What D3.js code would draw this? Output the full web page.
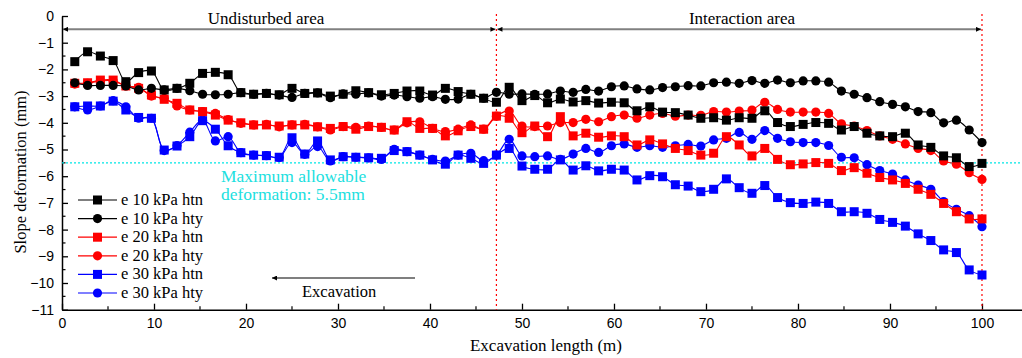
<!DOCTYPE html>
<html>
<head>
<meta charset="utf-8">
<script src="https://cdn.jsdelivr.net/npm/d3@7"></script>
<style>
  body { margin: 0; background: #fff; }
  svg { display: block; }
</style>
</head>
<body>
<svg></svg>
<script>
// excavation positions (m)
const xs = [1.39, 2.78, 4.17, 5.56, 6.94, 8.33, 9.72, 11.11, 12.5, 13.89, 15.28, 16.67, 18.06, 19.44, 20.83, 22.22, 23.61, 25, 26.39, 27.78, 29.17, 30.56, 31.94, 33.33, 34.72, 36.11, 37.5, 38.89, 40.28, 41.67, 43.06, 44.44, 45.83, 47.22, 48.61, 50, 51.39, 52.78, 54.17, 55.56, 56.94, 58.33, 59.72, 61.11, 62.5, 63.89, 65.28, 66.67, 68.06, 69.44, 70.83, 72.22, 73.61, 75, 76.39, 77.78, 79.17, 80.56, 81.94, 83.33, 84.72, 86.11, 87.5, 88.89, 90.28, 91.67, 93.06, 94.44, 95.83, 97.22, 98.61, 100]

const e10htn = [-1.71, -1.34, -1.5, -1.67, -2.46, -2.12, -2.06, -2.77, -2.71, -2.52, -2.15, -2.11, -2.2, -2.87, -2.93, -2.9, -2.95, -2.71, -2.9, -2.88, -3.0, -2.93, -2.8, -2.87, -2.95, -2.9, -2.81, -2.81, -2.96, -2.71, -2.83, -2.93, -3.08, -3.23, -2.67, -3.17, -2.98, -3.25, -3.11, -3.22, -3.17, -3.26, -3.23, -3.25, -3.55, -3.4, -3.6, -3.62, -3.71, -3.83, -3.81, -3.9, -3.81, -3.83, -3.55, -3.99, -4.14, -4.06, -3.99, -4.02, -4.27, -4.14, -4.39, -4.49, -4.52, -4.39, -4.83, -4.92, -5.24, -5.31, -5.64, -5.52]
const e10hty = [-2.5, -2.6, -2.6, -2.6, -2.62, -2.77, -2.71, -2.77, -2.71, -2.8, -2.93, -2.95, -2.93, -2.87, -2.93, -2.9, -2.96, -3.05, -2.9, -2.88, -3.06, -2.92, -2.93, -2.88, -3.0, -2.96, -3.02, -3.08, -3.02, -3.12, -3.11, -2.93, -3.08, -2.86, -2.93, -2.92, -2.93, -2.92, -2.81, -2.86, -2.75, -2.81, -2.65, -2.62, -2.73, -2.77, -2.68, -2.65, -2.61, -2.62, -2.5, -2.48, -2.52, -2.42, -2.52, -2.4, -2.5, -2.43, -2.43, -2.48, -2.81, -2.93, -3.06, -3.21, -3.31, -3.4, -3.58, -3.62, -4.0, -3.9, -4.27, -4.74]
const e20htn = [-2.52, -2.5, -2.4, -2.4, -2.62, -2.71, -2.96, -3.12, -3.27, -3.52, -3.58, -3.71, -3.9, -4.0, -4.08, -4.08, -4.12, -4.08, -4.08, -4.15, -4.21, -4.14, -4.24, -4.14, -4.17, -4.27, -3.96, -4.21, -4.21, -4.49, -4.3, -4.14, -4.24, -3.75, -3.83, -4.37, -4.12, -4.52, -3.77, -4.49, -4.39, -4.54, -4.49, -4.52, -4.83, -4.64, -4.79, -4.96, -5.04, -5.21, -5.14, -4.52, -4.83, -5.24, -4.96, -5.37, -5.57, -5.54, -5.49, -5.52, -5.79, -5.68, -5.89, -6.05, -6.14, -6.27, -6.49, -6.68, -7.02, -7.33, -7.6, -7.6]
const e20hty = [-2.55, -2.52, -2.43, -2.43, -2.62, -2.67, -3.0, -3.08, -3.37, -3.52, -3.58, -3.65, -3.88, -4.02, -4.08, -4.06, -4.15, -4.08, -4.06, -4.15, -4.27, -4.14, -4.17, -4.12, -4.17, -4.27, -4.0, -3.96, -4.21, -4.33, -4.24, -4.08, -4.24, -3.75, -3.56, -4.12, -4.14, -4.12, -3.99, -3.99, -3.87, -3.96, -3.77, -3.71, -3.83, -3.71, -3.65, -3.75, -3.71, -3.72, -3.58, -3.6, -3.56, -3.52, -3.23, -3.5, -3.6, -3.6, -3.6, -3.65, -4.04, -4.12, -4.29, -4.49, -4.62, -4.79, -4.96, -5.04, -5.43, -5.55, -5.87, -6.12]
const e30htn = [-3.4, -3.37, -3.37, -3.19, -3.52, -3.8, -3.83, -5.02, -4.87, -4.52, -3.92, -4.24, -4.86, -5.12, -5.21, -5.23, -5.29, -4.56, -5.17, -4.68, -5.39, -5.27, -5.29, -5.31, -5.33, -5.04, -5.08, -5.21, -5.39, -5.55, -5.21, -5.33, -5.52, -5.21, -4.96, -5.62, -5.74, -5.74, -5.39, -5.77, -5.61, -5.8, -5.74, -5.77, -6.14, -5.98, -6.02, -6.32, -6.37, -6.58, -6.49, -6.1, -6.43, -6.64, -6.35, -6.8, -6.99, -7.02, -6.97, -7.02, -7.33, -7.33, -7.39, -7.62, -7.73, -7.87, -8.16, -8.41, -8.76, -8.86, -9.51, -9.7]
const e30hty = [-3.4, -3.52, -3.37, -3.17, -3.4, -3.83, -3.83, -5.04, -4.85, -4.35, -3.9, -4.68, -4.52, -5.12, -5.21, -5.23, -5.3, -4.74, -5.18, -4.89, -5.43, -5.27, -5.29, -5.31, -5.37, -4.99, -5.08, -5.21, -5.37, -5.43, -5.21, -5.14, -5.42, -5.21, -4.62, -5.24, -5.27, -5.24, -5.37, -5.17, -4.96, -5.11, -4.86, -4.79, -4.92, -4.86, -4.92, -4.86, -4.81, -4.87, -4.64, -4.58, -4.36, -4.62, -4.29, -4.58, -4.71, -4.74, -4.74, -4.85, -5.29, -5.31, -5.57, -5.79, -5.92, -6.14, -6.33, -6.49, -6.95, -7.24, -7.48, -7.89]

const seriesNames = ["e 10 kPa htn", "e 10 kPa hty", "e 20 kPa htn", "e 20 kPa hty", "e 30 kPa htn", "e 30 kPa hty"]
const seriesValues = [e10htn, e10hty, e20htn, e20hty, e30htn, e30hty]
const seriesColors = ["#000000", "#000000", "#ff0000", "#ff0000", "#0000ff", "#0000ff"]
const seriesShapes = ["square", "circle", "square", "circle", "square", "circle"]

const xTicks = [0, 10, 20, 30, 40, 50, 60, 70, 80, 90, 100]
const yTicks = [0, -1, -2, -3, -4, -5, -6, -7, -8, -9, -10, -11]
const limitValue = -5.5
const boundaryX = 47.22
const endX = 100

const width = 1022
const height = 358

const svg = d3.select("svg")
      .attr("width", width)
      .attr("height", height)
      .style("font-family", "'Liberation Serif', 'Times New Roman', serif")

const x = d3.scaleLinear().domain([0, 104.35]).range([62, 1022])
const y = d3.scaleLinear().domain([0, -11]).range([16, 309.7])

svg.append("defs").append("marker")
      .attr("id", "arr")
      .attr("viewBox", "0 0 10 10")
      .attr("refX", 10).attr("refY", 5)
      .attr("markerWidth", 7).attr("markerHeight", 5)
      .attr("markerUnits", "userSpaceOnUse")
      .attr("orient", "auto-start-reverse")
      .append("path").attr("d", "M0,0 L10,5 L0,10 z").attr("fill", "black")

// axes
const xAxis = d3.axisBottom(x).tickValues(xTicks).tickSizeInner(-6).tickSizeOuter(0).tickPadding(8)
const gx = svg.append("g").attr("transform", `translate(0,${y(-11)})`).call(xAxis)
gx.selectAll(".tick text").style("font-family", "'Liberation Sans', Arial, sans-serif").style("font-size", "14px")
gx.select(".domain").attr("stroke-width", 1.5)
gx.selectAll(".tick line").attr("stroke-width", 1.3)
gx.selectAll(".minor")
      .data(d3.range(5, 105, 10))
      .join("line")
      .attr("x1", d => x(d)).attr("x2", d => x(d))
      .attr("y1", 0).attr("y2", -3.5)
      .attr("stroke", "black").attr("stroke-width", 1.2)

const yAxis = d3.axisLeft(y).tickValues(yTicks).tickSizeInner(-6).tickSizeOuter(0).tickPadding(8)
const gy = svg.append("g").attr("transform", `translate(${x(0)},0)`).call(yAxis)
gy.selectAll(".tick text").style("font-family", "'Liberation Sans', Arial, sans-serif").style("font-size", "14px")
gy.select(".domain").attr("stroke-width", 1.5)
gy.selectAll(".tick line").attr("stroke-width", 1.3)
gy.selectAll(".minor")
      .data(d3.range(-0.5, -11, -1))
      .join("line")
      .attr("x1", 0).attr("x2", 3.5)
      .attr("y1", d => y(d)).attr("y2", d => y(d))
      .attr("stroke", "black").attr("stroke-width", 1.2)

svg.append("text")
      .attr("x", 546).attr("y", 351)
      .attr("text-anchor", "middle")
      .style("font-size", "17px")
      .text("Excavation length (m)")

svg.append("text")
      .attr("transform", "translate(26,172) rotate(-90)")
      .attr("text-anchor", "middle")
      .style("font-size", "16.5px")
      .text("Slope deformation  (mm)")

// limit line
svg.append("line")
      .attr("x1", x(0)).attr("x2", width)
      .attr("y1", y(limitValue)).attr("y2", y(limitValue))
      .attr("stroke", "#00e6e6").attr("stroke-width", 1.3)
      .attr("stroke-dasharray", "2,2")

svg.append("text")
      .attr("x", 221).attr("y", 182)
      .attr("fill", "#20e0e0")
      .style("font-size", "17.5px")
      .text("Maximum allowable")
svg.append("text")
      .attr("x", 221).attr("y", 200)
      .attr("fill", "#20e0e0")
      .style("font-size", "17.5px")
      .text("deformation: 5.5mm")

// red boundary lines
svg.selectAll(".bound")
      .data([boundaryX, endX])
      .join("line")
      .attr("x1", d => x(d)).attr("x2", d => x(d))
      .attr("y1", 14).attr("y2", y(-11))
      .attr("stroke", "#ff0000").attr("stroke-width", 1.2)
      .attr("stroke-dasharray", "2,3")

// area arrows
const areaY = y(-0.5)
svg.selectAll(".area")
      .data([[0, boundaryX], [boundaryX, endX]])
      .join("line")
      .attr("x1", d => x(d[0]) + 1).attr("x2", d => x(d[1]) - 1)
      .attr("y1", areaY).attr("y2", areaY)
      .attr("stroke", "#808080").attr("stroke-width", 2)
      .attr("marker-start", "url(#arr)")
      .attr("marker-end", "url(#arr)")

svg.append("text")
      .attr("x", 266).attr("y", 24)
      .attr("text-anchor", "middle")
      .style("font-size", "17px")
      .text("Undisturbed area")
svg.append("text")
      .attr("x", 742).attr("y", 24)
      .attr("text-anchor", "middle")
      .style("font-size", "17px")
      .text("Interaction area")

// excavation direction
svg.append("line")
      .attr("x1", 415).attr("x2", 272)
      .attr("y1", 278).attr("y2", 278)
      .attr("stroke", "black").attr("stroke-width", 1.2)
      .attr("marker-end", "url(#arr)")
svg.append("text")
      .attr("x", 302).attr("y", 297)
      .style("font-size", "16.5px")
      .text("Excavation")

// series
const line = d3.line()
      .x((d, i) => x(xs[i]))
      .y(d => y(d))
      .curve(d3.curveCatmullRom.alpha(0.5))

function drawMarker(g, shape, color, cx, cy) {
      if (shape === "square") {
            g.append("rect")
                  .attr("x", cx - 4.5).attr("y", cy - 4.5)
                  .attr("width", 9).attr("height", 9)
                  .attr("fill", color)
      } else {
            g.append("circle")
                  .attr("cx", cx).attr("cy", cy).attr("r", 4.6)
                  .attr("fill", color)
      }
}

const order = [5, 4, 3, 2, 1, 0]
order.forEach(k => {
      const g = svg.append("g")
      g.append("path")
            .attr("d", line(seriesValues[k]))
            .attr("fill", "none")
            .attr("stroke", seriesColors[k])
            .attr("stroke-width", 1.1)
      seriesValues[k].forEach((v, i) => drawMarker(g, seriesShapes[k], seriesColors[k], x(xs[i]), y(v)))
})

// legend
const legend = svg.append("g")
seriesNames.forEach((name, k) => {
      const ly = 200 + k * 18.6
      legend.append("line")
            .attr("x1", 78).attr("x2", 117)
            .attr("y1", ly).attr("y2", ly)
            .attr("stroke", seriesColors[k]).attr("stroke-width", 1.2)
      drawMarker(legend, seriesShapes[k], seriesColors[k], 97.5, ly)
      legend.append("text")
            .attr("x", 121).attr("y", ly + 5)
            .style("font-size", "16.5px")
            .text(name)
})
</script>
</body>
</html>
